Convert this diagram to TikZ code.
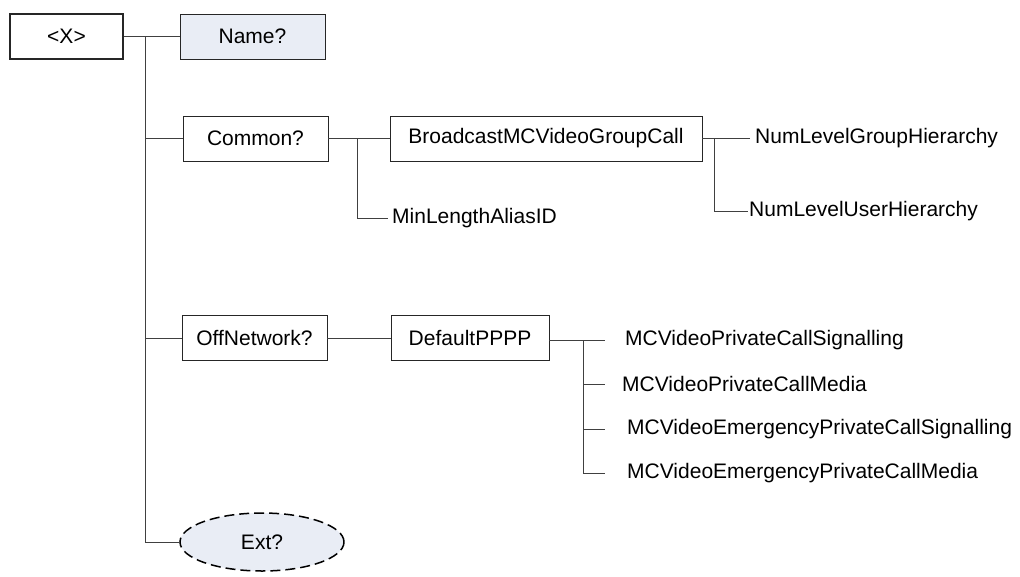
\documentclass[tikz,border=0pt]{standalone}
\usepackage{fontspec}
\setmainfont{Liberation Sans}
\usetikzlibrary{shapes.geometric}
\definecolor{node-fill}{HTML}{E9EDF5}
\tikzset{
    elem-box/.style = {draw=black!85, fill=white, rectangle, line width=0.9pt, minimum height=45pt, inner sep=0pt, font=\fontsize{21}{25}\selectfont},
    root-box/.style = {elem-box, line width=2.2pt, minimum width=113pt},
    opt-ellipse/.style = {draw=black, fill=node-fill, ellipse, dash pattern=on 10pt off 5pt, line width=1.5pt, minimum width=164pt, minimum height=58pt, inner sep=0pt, font=\fontsize{21}{25}\selectfont},
    leaf-text/.style = {anchor=west, inner sep=0pt, font=\fontsize{21}{25}\selectfont},
    tree-line/.style = {draw=black!75, line width=0.9pt},
}

\begin{document}
\begin{tikzpicture}[x=1pt, y=-1pt]
\useasboundingbox (0,0) rectangle (1020,576);
% interior nodes
\node [root-box] (root) at (66.5,36.5) {<X>};
\node [elem-box, fill=node-fill, minimum width=145pt] (name) at (252.5,36.5) {Name?};
\node [elem-box, minimum width=145pt] (common) at (255.5,138.5) {Common?};
\node [elem-box, minimum width=312pt] (bcast) at (546,138.5) {BroadcastMCVideoGroupCall};
\node [elem-box, minimum width=145pt] (offnet) at (254.5,338) {OffNetwork?};
\node [elem-box, minimum width=158pt] (defpppp) at (470,338) {DefaultPPPP};
\node [opt-ellipse] (ext) at (262,542) {Ext?};
% leaves
\node [leaf-text] (minlen) at (392,218) {MinLengthAliasID};
\node [leaf-text] (numgroup) at (755,138.5) {NumLevelGroupHierarchy};
\node [leaf-text] (numuser) at (749,211) {NumLevelUserHierarchy};
\node [leaf-text] (sig) at (625,340) {MCVideoPrivateCallSignalling};
\node [leaf-text] (media) at (622,384) {MCVideoPrivateCallMedia};
\node [leaf-text] (emsig) at (627,429) {MCVideoEmergencyPrivateCallSignalling};
\node [leaf-text] (emmedia) at (627,473) {MCVideoEmergencyPrivateCallMedia};
% forks
\coordinate (root-fork) at (145,36.5);
\coordinate (common-fork) at (357,138.5);
\coordinate (bcast-fork) at (714,138.5);
\coordinate (pppp-fork) at (583,340);
% connectors
\draw [tree-line] (root.east) -- (name.west);
\draw [tree-line] (root-fork) |- (common.west);
\draw [tree-line] (root-fork) |- (offnet.west);
\draw [tree-line] (root-fork) |- (ext.west);
\draw [tree-line] (common.east) -- (bcast.west);
\draw [tree-line] (common-fork) |- ([xshift=-4pt]minlen.west);
\draw [tree-line] (bcast.east) -- ([xshift=-5pt]numgroup.west);
\draw [tree-line] (bcast-fork) |- ([xshift=-1pt]numuser.west);
\draw [tree-line] (offnet.east) -- (defpppp.west);
\draw [tree-line] (defpppp.east |- sig.west) -- ([xshift=-20pt]sig.west);
\draw [tree-line] (pppp-fork) |- ([xshift=-17pt]media.west);
\draw [tree-line] (pppp-fork) |- ([xshift=-22pt]emsig.west);
\draw [tree-line] (pppp-fork) |- ([xshift=-22pt]emmedia.west);
\end{tikzpicture}
\end{document}
